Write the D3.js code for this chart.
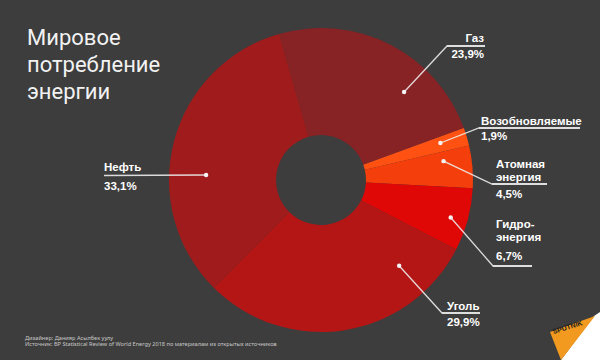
<!DOCTYPE html>
<html><head><meta charset="utf-8">
<script src="https://cdn.jsdelivr.net/npm/d3@7"></script>
<style>
html,body{margin:0;padding:0;background:#3d3d3d;}
svg{display:block;}
</style></head>
<body>
<svg id="chart" width="600" height="360"></svg>
<script>
// ---- data ----
const categories = ["Газ", "Возобновляемые", "Атомная энергия", "Гидро-энергия", "Уголь", "Нефть"];
const nameLines = [["Газ"], ["Возобновляемые"], ["Атомная", "энергия"], ["Гидро-", "энергия"], ["Уголь"], ["Нефть"]];
const values = [23.9, 1.9, 4.5, 6.7, 29.9, 33.1];
const valueLabels = ["23,9%", "1,9%", "4,5%", "6,7%", "29,9%", "33,1%"];
const titleLines = ["Мировое", "потребление", "энергии"];
const creditLines = ["Дизайнер: Данияр Асылбек уулу",
  "Источник: BP Statistical Review of World Energy 2018 по материалам из открытых источников"];

// ---- styles / layout ----
const colors = ["#872225", "#ff5212", "#f43f0c", "#e00707", "#b41616", "#a01b1b"];
const cx = 321, cy = 180, rIn = 45, rOut = 152;
const startDeg = -16;
// label layout: dot fraction within slice, dot radius, elbow, underline end, text anchor
const labelLayout = [
  {f:0.69, r:121, ex:447, ey:46,  ux:485, tx:484, anchor:"end",   nameY:42, valY:58},
  {f:0.40, r:125, ex:479, ey:128, ux:580, tx:481, anchor:"start", nameY:124.5, valY:140},
  {f:0.27, r:124, ex:492, ey:184, ux:547, tx:496, anchor:"start", nameY:168, valY:198},
  {f:0.54, r:135, ex:493, ey:266, ux:532, tx:496, anchor:"start", nameY:228, valY:260},
  {f:0.19, r:116, ex:442, ey:313, ux:480, tx:447, anchor:"start", nameY:310, valY:326},
  {f:0.40, r:115, ex:104, ey:175.5, ux:104, tx:104, anchor:"start", nameY:171, valY:189.5}
];
const nameLineGap = 13;

const svg = d3.select("#chart");
svg.append("rect").attr("width",600).attr("height",360).attr("fill","#3d3d3d");

const start = startDeg * Math.PI / 180;
const pie = d3.pie().sort(null).value(d => d).startAngle(start).endAngle(start + 2*Math.PI);
const arcs = pie(values);
const arc = d3.arc().innerRadius(rIn).outerRadius(rOut);

const g = svg.append("g").attr("transform", `translate(${cx},${cy})`);
g.selectAll("path").data(arcs).join("path")
  .attr("d", arc).attr("fill", (d,i) => colors[i]);

// labels
const font = "'Liberation Sans', Arial, sans-serif";
const smallFont = "'Noto Sans', 'DejaVu Sans', sans-serif";
arcs.forEach((a, i) => {
  const L = labelLayout[i];
  const ang = a.startAngle + (a.endAngle - a.startAngle) * L.f;
  const dx = cx + L.r * Math.sin(ang), dy = cy - L.r * Math.cos(ang);
  svg.append("polyline")
    .attr("points", `${dx},${dy} ${L.ex},${L.ey} ${L.ux},${L.ey}`)
    .attr("fill","none").attr("stroke","#ececec").attr("stroke-width",1.3)
    .attr("stroke-opacity",0.9);
  if (L.ux !== L.ex) {
    svg.append("line").attr("x1",L.ex).attr("y1",L.ey).attr("x2",L.ux).attr("y2",L.ey)
      .attr("stroke","#ececec").attr("stroke-width",1.6);
  }
  svg.append("circle").attr("cx",dx).attr("cy",dy).attr("r",2.2).attr("fill","#f4f4f4");
  const nt = svg.append("text").attr("text-anchor",L.anchor)
    .attr("font-family",font).attr("font-weight","bold").attr("font-size",11.5)
    .attr("fill","#ffffff");
  nameLines[i].forEach((t, k) => {
    nt.append("tspan").attr("x",L.tx).attr("y",L.nameY + k*nameLineGap).text(t);
  });
  svg.append("text").attr("x",L.tx).attr("y",L.valY).attr("text-anchor",L.anchor)
    .attr("font-family",font).attr("font-weight","bold").attr("font-size",11.5)
    .attr("fill","#ffffff").text(valueLabels[i]);
});

// title
const tt = svg.append("text")
  .attr("font-family","Roboto, 'Noto Sans', sans-serif").attr("font-size",22)
  .attr("fill","#f2f2f2");
titleLines.forEach((t, k) => {
  tt.append("tspan").attr("x",27).attr("y",45 + k*27).text(t);
});

// credits
const ct = svg.append("text").attr("font-family",smallFont).attr("font-size",5.6).attr("fill","#c8c8c8");
creditLines.forEach((t, k) => {
  ct.append("tspan").attr("x",25).attr("y",339.5 + k*6.5).text(t);
});

// Sputnik logo
svg.append("polygon").attr("points","594,316 600,312 600,360 561,360").attr("fill","#ffffff");
svg.append("polygon").attr("points","550,332 595,316 561,360").attr("fill","#f29a1f");
svg.append("text").attr("transform","translate(553.5,334) rotate(-17)")
  .attr("font-family","'Liberation Sans', sans-serif").attr("font-weight","bold").attr("font-size",7)
  .attr("fill","#1a1a1a").text("SPUTNIK");
</script>
</body></html>
